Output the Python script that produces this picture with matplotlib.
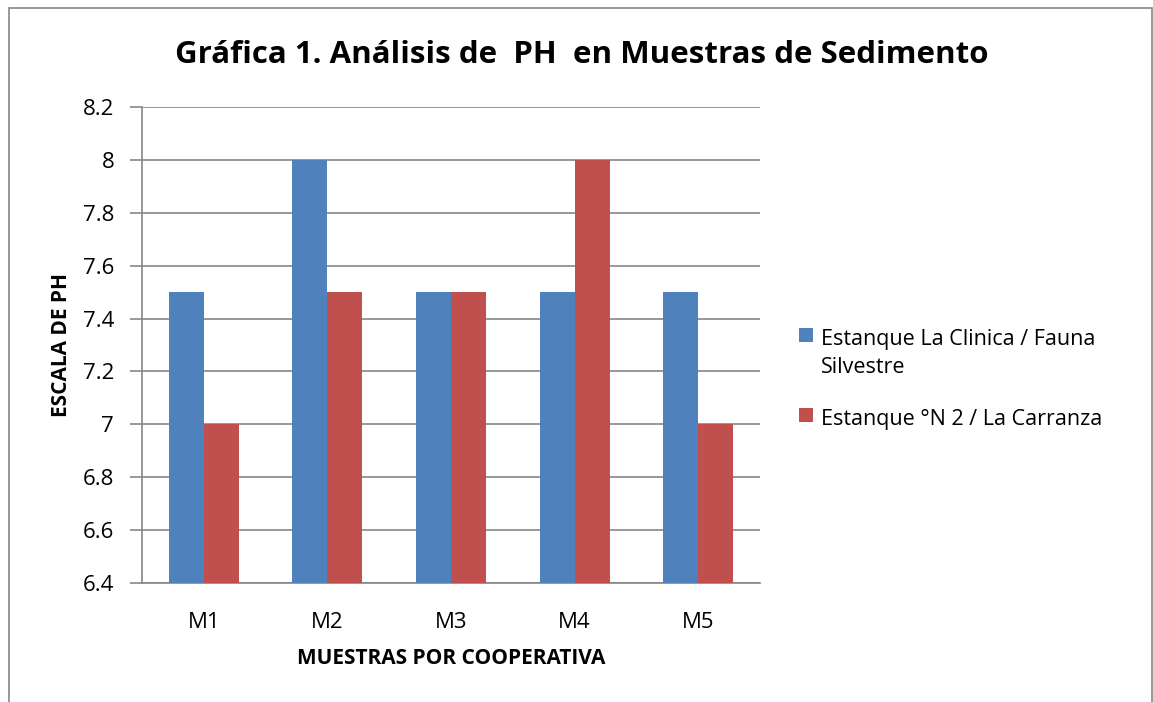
import matplotlib
matplotlib.use("Agg")
import matplotlib.pyplot as plt
import numpy as np
from matplotlib.patches import Rectangle

categories = ["M1", "M2", "M3", "M4", "M5"]
serie_clinica = [7.5, 8.0, 7.5, 7.5, 7.5]
serie_carranza = [7.0, 7.5, 7.5, 8.0, 7.0]
series_names = ["Estanque La Clinica / Fauna\nSilvestre", "Estanque °N 2 / La Carranza"]
yticks = [6.4, 6.6, 6.8, 7.0, 7.2, 7.4, 7.6, 7.8, 8.0, 8.2]
ytick_labels = ["6.4", "6.6", "6.8", "7", "7.2", "7.4", "7.6", "7.8", "8", "8.2"]

plt.rcParams['font.family'] = ['Open Sans', 'DejaVu Sans']

W, H = 1153, 702
fig = plt.figure(figsize=(W / 100, H / 100), dpi=100)
fig.patch.set_facecolor("white")

# chart border
fig.patches.append(Rectangle((9 / W, -0.01), (1152 - 9) / W, 1.01 - 8 / H, transform=fig.transFigure,
                             fill=False, edgecolor="#868686", linewidth=1.2))

ax = fig.add_axes([142 / W, 1 - 583 / H, (760 - 142) / W, (583 - 107) / H])
x = np.arange(len(categories))
bw = 0.283
blue = "#4F81BD"
red = "#C0504D"
colors = [blue, red]
b1 = ax.bar(x - bw / 2, np.array(serie_clinica) - 6.4, bw, bottom=6.4, color=blue, zorder=3)
b2 = ax.bar(x + bw / 2, np.array(serie_carranza) - 6.4, bw, bottom=6.4, color=red, zorder=3)

ax.set_xlim(-0.5, len(categories) - 0.5)
ax.set_ylim(6.4, 8.2)
ax.set_yticks(yticks)
ax.set_yticklabels(ytick_labels)
ax.set_xticks(x)
ax.set_xticklabels(categories)
ax.yaxis.grid(True, color="#868686", linewidth=1.2, zorder=0)
ax.set_axisbelow(True)
for s in ["top", "right"]:
    ax.spines[s].set_visible(False)
for s in ["left", "bottom"]:
    ax.spines[s].set_color("#868686")
    ax.spines[s].set_linewidth(1.2)
ax.tick_params(axis="y", length=9, width=1.2, color="#868686", labelsize=16, pad=11)
ax.tick_params(axis="x", length=0, labelsize=16, pad=21)

ax.set_ylabel("ESCALA DE PH", fontsize=15, fontweight="bold", labelpad=8)
ax.set_xlabel("MUESTRAS POR COOPERATIVA", fontsize=15, fontweight="bold", labelpad=11)

fig.text(582 / W, 1 - 55 / H, "Gráfica 1. Análisis de  PH  en Muestras de Sedimento",
         ha="center", va="center", fontsize=22.5, fontweight="bold")

# legend (drawn manually to mimic the spreadsheet layout)
leg_items = [(series_names[0], colors[0], 337), (series_names[1], colors[1], 417)]
for name, col, yline in leg_items:
    fig.patches.append(Rectangle((799 / W, 1 - (yline + 5) / H), 14 / W, 14 / H,
                                 transform=fig.transFigure, facecolor=col, edgecolor="none"))
    fig.text(821 / W, 1 - (yline - 8) / H, name, ha="left", va="top",
             fontsize=15.5, linespacing=1.45)

fig.savefig("out.png", dpi=100)
